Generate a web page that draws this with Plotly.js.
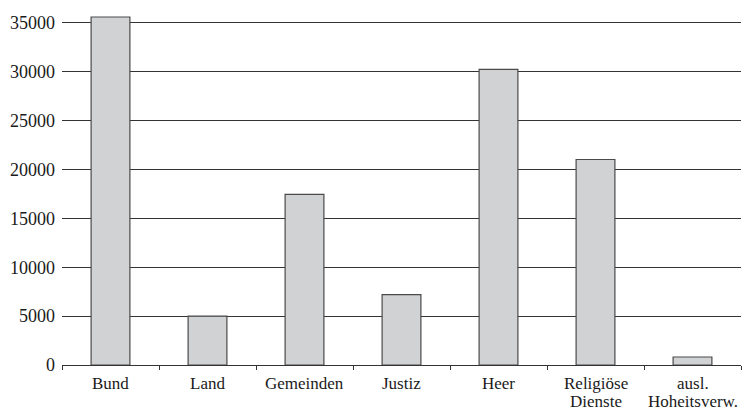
<!DOCTYPE html>
<html>
<head>
<meta charset="utf-8">
<script src="https://cdn.plot.ly/plotly-3.0.1.min.js"></script>
<style>html,body{margin:0;padding:0;background:#fff;}#chart{width:746px;height:411px;}</style>
</head>
<body>
<div id="chart"></div>
<script>
var categories = ["Bund", "Land", "Gemeinden", "Justiz", "Heer", "Religiöse Dienste", "ausl. Hoheitsverw."];
var labelLines = [["Bund"], ["Land"], ["Gemeinden"], ["Justiz"], ["Heer"], ["Religiöse", "Dienste"], ["ausl.", "Hoheitsverw."]];
var values = [35600, 4990, 17450, 7200, 30240, 21020, 820];
var yTicks = [0, 5000, 10000, 15000, 20000, 25000, 30000, 35000];

var FONT = "Liberation Serif";

var annotations = [];
labelLines.forEach(function (lines, i) {
  lines.forEach(function (txt, j) {
    annotations.push({
      x: categories[i], y: 0, xref: "x", yref: "y",
      text: txt, showarrow: false,
      xanchor: "center", yanchor: "top",
      yshift: -7 - j * 18,
      font: {family: FONT, size: 17, color: "#1a1a1a"}
    });
  });
});

var trace = {
  type: "bar",
  x: categories,
  y: values,
  marker: {color: "#d1d2d4", line: {color: "#4a4a4a", width: 1.2}},
  hoverinfo: "skip"
};

var layout = {
  width: 746, height: 411,
  margin: {l: 62, r: 5, t: 16, b: 46},
  paper_bgcolor: "#ffffff", plot_bgcolor: "#ffffff",
  showlegend: false,
  bargap: 0.6,
  font: {family: FONT, size: 18, color: "#1a1a1a"},
  xaxis: {
    type: "category",
    categoryorder: "array", categoryarray: categories,
    range: [-0.5, 6.5],
    showgrid: false, zeroline: false,
    showline: true, linecolor: "#333", linewidth: 1.2,
    ticks: "outside", tickson: "boundaries", ticklen: 4, tickcolor: "#333", tickwidth: 1,
    showticklabels: false
  },
  yaxis: {
    range: [0, 35700],
    tickvals: yTicks, ticktext: yTicks.map(String),
    showgrid: true, gridcolor: "#333", gridwidth: 1.2,
    zeroline: false, showline: false, ticks: "",
    ticklabelstandoff: 6,
    tickfont: {family: FONT, size: 18, color: "#1a1a1a"}
  },
  annotations: annotations
};

Plotly.newPlot("chart", [trace], layout, {staticPlot: true, displayModeBar: false});
</script>
</body>
</html>
